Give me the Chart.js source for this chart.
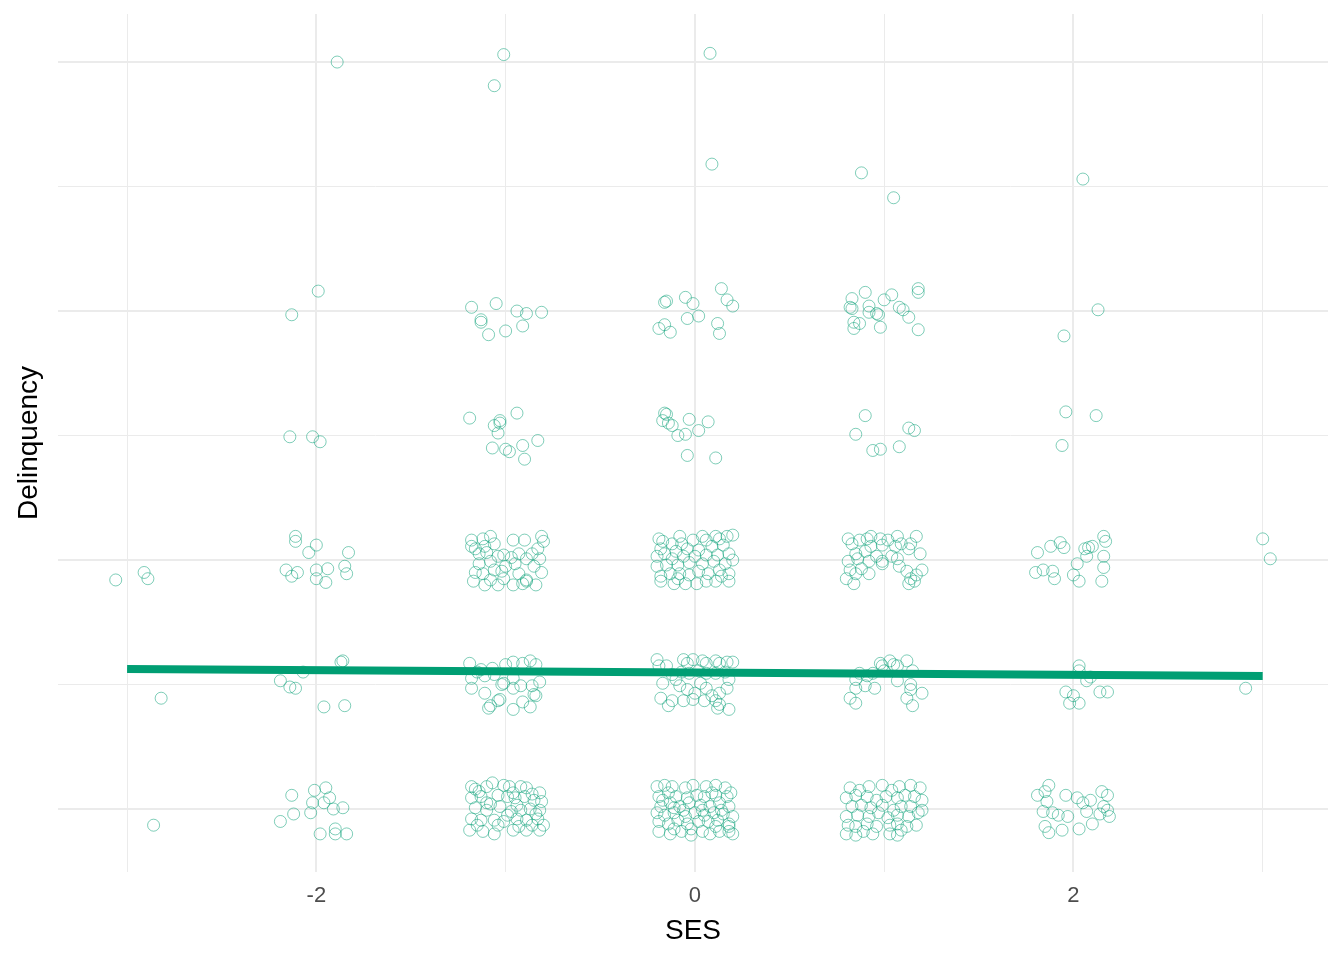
<!DOCTYPE html>
<html><head><meta charset="utf-8">
<script src="https://cdn.jsdelivr.net/npm/chart.js@4.4.1/dist/chart.umd.min.js"></script>
<style>html,body{margin:0;padding:0;background:#fff;}#wrap{width:1344px;height:960px;}</style>
</head><body><div id="wrap"><canvas id="c" width="1344" height="960"></canvas></div>
<script>
const xTitle = 'SES';
const yTitle = 'Delinquency';
const xGridTicks = [-3, -2, -1, 0, 1, 2, 3];
const xLabelled = [-2, 0, 2];
const yGridTicks = [0, 1, 2, 3, 4, 5, 6];

// jittered observations [SES, Delinquency], grouped by SES column
const sesNeg3 = [[-3.06,1.84],[-2.91,1.90],[-2.89,1.85],[-2.82,0.89],[-2.86,-0.13]];
const sesNeg2 = [
 [-1.89,6.00],[-1.99,4.16],[-2.13,3.97],[-2.14,2.99],[-2.02,2.99],[-1.98,2.95],
 [-2.11,2.19],[-2.11,2.15],[-2.00,2.12],[-2.04,2.06],[-1.83,2.06],[-2.16,1.92],[-2.13,1.87],
 [-2.10,1.90],[-2.00,1.92],[-2.00,1.85],[-1.94,1.93],[-1.95,1.82],[-1.85,1.95],[-1.84,1.89],
 [-2.07,1.10],[-1.87,1.18],[-1.86,1.19],[-2.19,1.03],[-2.14,0.98],[-2.11,0.97],[-1.96,0.82],[-1.85,0.83],
 [-2.13,0.11],[-2.01,0.15],[-1.95,0.17],[-1.93,0.09],[-2.02,0.05],[-1.96,0.05],[-2.03,-0.03],
 [-1.91,0.00],[-1.86,0.01],[-2.12,-0.04],[-2.19,-0.10],[-1.98,-0.20],[-1.90,-0.16],[-1.90,-0.20],[-1.84,-0.20]
];
const sesNeg1 = [
 [-1.01,6.06],[-1.06,5.81],
 [-1.18,4.03],[-1.05,4.06],[-0.94,4.00],[-0.89,3.98],[-0.81,3.99],[-1.13,3.93],[-1.13,3.91],[-1.09,3.81],[-1.00,3.84],[-0.91,3.88],
 [-1.19,3.14],[-0.94,3.18],[-1.03,3.12],[-1.03,3.10],[-1.06,3.08],[-1.04,3.02],[-0.83,2.96],[-1.07,2.90],[-1.00,2.89],[-0.98,2.87],[-0.91,2.92],[-0.90,2.81],
 [-1.18,2.16],[-1.16,2.09],[-1.12,2.17],[-1.08,2.19],[-1.06,2.13],[-1.11,2.11],[-1.10,2.06],[-1.14,2.05],[-0.96,2.16],[-0.90,2.16],
 [-0.81,2.19],[-0.80,2.15],[-0.83,2.09],[-0.86,2.05],[-0.93,2.05],[-1.01,2.04],[-1.04,2.03],[-0.97,2.02],[-1.08,1.99],[-1.14,1.97],
 [-0.82,2.01],[-0.89,2.01],[-1.00,1.95],[-0.95,1.97],[-1.16,1.90],[-1.12,1.89],[-1.06,1.92],[-1.02,1.91],[-0.93,1.89],[-0.89,1.84],
 [-0.89,1.83],[-0.81,1.90],[-1.17,1.83],[-1.11,1.80],[-1.04,1.80],[-0.96,1.80],[-0.84,1.80],[-0.91,1.81],[-1.01,1.85],[-1.08,1.84],
 [-0.85,1.95],[-1.18,2.11],
 [-1.19,1.17],[-1.13,1.12],[-1.07,1.13],[-1.00,1.16],[-0.96,1.18],[-0.91,1.17],[-0.87,1.19],[-0.84,1.16],[-1.18,1.05],[-1.11,1.07],
 [-1.06,1.08],[-1.01,1.01],[-0.96,1.05],[-0.92,0.99],[-0.86,0.99],[-0.82,1.02],[-1.18,0.97],[-1.11,0.93],[-1.02,1.00],[-1.04,0.87],
 [-0.96,0.97],[-0.85,0.92],[-0.84,0.91],[-1.09,0.81],[-1.08,0.83],[-0.96,0.80],[-0.91,0.86],[-0.87,0.82],[-1.03,0.88],[-1.15,1.10],
 [-1.18,0.18],[-1.16,0.16],[-1.10,0.18],[-1.07,0.21],[-1.01,0.19],[-0.98,0.18],[-0.92,0.18],[-0.89,0.17],[-0.82,0.13],[-1.18,0.09],
 [-1.13,0.10],[-1.04,0.11],[-0.99,0.10],[-0.95,0.09],[-0.90,0.10],[-0.85,0.07],[-0.81,0.06],[-1.16,0.01],[-1.10,-0.01],[-1.03,0.02],
 [-0.97,-0.02],[-0.92,-0.01],[-0.87,0.00],[-0.82,-0.01],[-1.18,-0.08],[-1.13,-0.09],[-1.06,-0.09],[-1.01,-0.10],[-0.94,-0.08],[-0.89,-0.09],
 [-0.83,-0.08],[-1.19,-0.17],[-1.12,-0.18],[-1.06,-0.20],[-0.96,-0.17],[-0.89,-0.17],[-0.82,-0.17],[-0.80,-0.13],[-1.04,-0.13],[-0.86,-0.13],
 [-1.10,0.05],[-0.94,0.03],[-1.14,0.14],[-0.96,0.13],[-0.86,0.12],[-1.08,0.04],[-0.99,-0.05],[-0.84,-0.04],[-1.15,-0.13],[-0.93,-0.14]
];
const ses0 = [
 [0.08,6.07],[0.09,5.18],
 [-0.16,4.07],[-0.15,4.08],[-0.05,4.11],[-0.01,4.06],[0.14,4.18],[0.17,4.09],[0.20,4.04],[-0.04,3.94],[0.02,3.96],[-0.19,3.86],[-0.16,3.89],[-0.13,3.83],[0.12,3.90],[0.13,3.82],
 [-0.16,3.18],[-0.15,3.17],[-0.17,3.12],[-0.14,3.10],[-0.12,3.08],[-0.03,3.13],[0.07,3.11],[0.02,3.04],[-0.09,3.00],[-0.05,3.01],[-0.04,2.84],[0.11,2.82],
 [-0.19,2.17],[-0.17,2.15],[-0.18,2.09],[-0.12,2.13],[-0.08,2.19],[-0.07,2.13],[-0.01,2.16],[0.04,2.19],[0.06,2.16],[0.11,2.19],
 [0.13,2.17],[0.17,2.19],[0.20,2.20],[0.15,2.12],[0.09,2.11],[0.02,2.08],[-0.04,2.09],[-0.10,2.07],[-0.16,2.05],[-0.20,2.03],
 [-0.12,2.01],[-0.06,2.03],[0.00,2.03],[0.06,2.04],[0.12,2.04],[0.18,2.05],[0.20,2.00],[0.16,1.97],[0.10,1.99],[0.04,1.97],
 [-0.03,1.98],[-0.09,1.96],[-0.15,1.96],[-0.20,1.95],[-0.18,1.87],[-0.13,1.89],[-0.08,1.89],[-0.03,1.88],[0.02,1.91],[0.07,1.89],
 [0.13,1.92],[0.18,1.89],[-0.18,1.83],[-0.11,1.81],[-0.05,1.81],[0.01,1.81],[0.06,1.83],[0.11,1.83],[0.18,1.83],[-0.09,1.85],[0.14,1.87],
 [-0.20,1.20],[-0.19,1.15],[-0.15,1.15],[-0.12,1.08],[-0.06,1.20],[-0.04,1.17],[-0.01,1.20],[0.04,1.19],[0.06,1.17],[0.11,1.19],
 [0.13,1.17],[0.17,1.18],[0.20,1.18],[-0.07,1.10],[-0.03,1.09],[0.02,1.11],[0.06,1.09],[0.11,1.09],[0.16,1.10],[0.18,1.04],
 [-0.18,0.89],[-0.14,0.83],[-0.12,0.87],[-0.08,0.99],[-0.04,0.96],[0.00,0.93],[0.03,1.01],[0.06,0.97],[0.09,0.91],[0.13,0.93],
 [0.17,0.97],[-0.06,0.87],[-0.01,0.88],[0.05,0.87],[0.11,0.87],[0.12,0.81],[0.18,0.80],[0.13,0.84],[-0.10,1.04],[-0.17,1.01],
 [-0.20,0.18],[-0.16,0.19],[-0.12,0.18],[-0.05,0.17],[-0.01,0.19],[0.06,0.18],[0.11,0.19],[0.16,0.17],[0.19,0.13],[-0.19,0.10],
 [-0.14,0.13],[-0.10,0.10],[-0.04,0.09],[0.01,0.11],[0.05,0.10],[0.11,0.11],[0.17,0.10],[-0.18,0.02],[-0.13,0.05],[-0.08,0.02],
 [-0.03,0.05],[0.03,0.03],[0.08,0.02],[0.13,0.05],[0.18,0.02],[-0.20,-0.03],[-0.16,-0.05],[-0.11,-0.03],[-0.05,-0.06],[0.00,-0.03],
 [0.05,-0.05],[0.10,-0.03],[0.15,-0.04],[0.20,-0.06],[-0.19,-0.10],[-0.14,-0.12],[-0.09,-0.09],[-0.04,-0.12],[0.02,-0.10],[0.07,-0.10],
 [0.12,-0.09],[0.18,-0.12],[-0.19,-0.18],[-0.13,-0.20],[-0.07,-0.18],[-0.02,-0.21],[0.04,-0.18],[0.08,-0.20],[0.13,-0.18],[0.18,-0.18],
 [0.20,-0.20],[-0.17,0.07],[-0.11,0.01],[-0.06,-0.01],[0.04,-0.01],[0.09,0.13],[0.14,-0.01],[-0.02,-0.16],[0.11,-0.14],[0.18,-0.14],[-0.11,-0.16]
];
const ses1 = [
 [0.88,5.11],[1.05,4.91],
 [1.18,4.18],[1.18,4.15],[0.90,4.15],[1.04,4.13],[1.00,4.09],[0.83,4.10],[0.82,4.03],[0.83,4.02],[0.92,4.04],[0.92,3.99],
 [0.96,3.98],[0.97,3.97],[1.08,4.03],[1.10,4.01],[1.13,3.95],[0.87,3.90],[0.84,3.91],[0.84,3.86],[0.98,3.87],[1.18,3.85],
 [0.90,3.16],[1.13,3.06],[1.16,3.04],[0.85,3.01],[1.08,2.91],[0.94,2.88],[0.98,2.89],
 [0.81,2.17],[0.83,2.13],[0.87,2.16],[0.91,2.17],[0.93,2.19],[0.98,2.17],[1.02,2.16],[1.07,2.19],[1.09,2.13],[1.14,2.13],
 [1.17,2.19],[1.19,2.05],[1.13,2.09],[1.06,2.11],[0.99,2.12],[0.93,2.11],[0.90,2.07],[0.85,2.05],[0.96,2.03],[0.99,1.99],
 [0.99,1.97],[0.92,1.99],[0.86,2.01],[0.81,1.99],[0.82,1.92],[0.85,1.89],[0.80,1.85],[0.84,1.81],[0.92,1.89],[1.04,2.03],
 [1.08,1.95],[1.12,1.91],[1.14,1.85],[1.13,1.81],[1.17,1.88],[1.20,1.92],[1.16,1.83],[1.07,2.01],[0.88,1.93],
 [0.87,1.09],[0.85,1.04],[0.85,0.97],[0.90,0.99],[0.95,0.97],[0.82,0.89],[0.85,0.85],[0.98,1.17],[0.99,1.15],[1.03,1.19],
 [1.05,1.16],[1.07,1.15],[1.12,1.19],[1.00,1.11],[1.07,1.03],[1.14,1.00],[1.14,0.96],[1.20,0.93],[1.12,0.89],[1.15,0.83],
 [0.91,1.07],[0.94,1.09],[1.15,1.11],
 [0.82,0.17],[0.87,0.15],[0.92,0.18],[0.99,0.19],[1.04,0.15],[1.08,0.18],[1.14,0.19],[1.19,0.17],[0.80,0.09],[0.85,0.11],
 [0.91,0.10],[0.96,0.07],[1.01,0.10],[1.07,0.09],[1.11,0.11],[1.16,0.10],[1.20,0.07],[0.83,0.02],[0.88,0.03],[0.93,0.01],
 [0.99,0.03],[1.05,-0.01],[1.09,0.02],[1.14,0.02],[1.20,-0.01],[0.80,-0.06],[0.86,-0.05],[0.92,-0.06],[0.97,-0.03],[1.02,-0.07],
 [1.07,-0.05],[1.13,-0.06],[1.18,-0.03],[0.81,-0.13],[0.85,-0.14],[0.91,-0.12],[0.96,-0.14],[1.03,-0.13],[1.07,-0.12],[1.12,-0.14],
 [1.17,-0.13],[0.80,-0.20],[0.85,-0.21],[0.89,-0.18],[0.94,-0.20],[1.03,-0.20],[1.07,-0.21],[1.09,-0.17]
];
const ses2 = [
 [2.05,5.06],[2.13,4.01],[1.95,3.80],[1.96,3.19],[2.12,3.16],[1.94,2.92],
 [1.81,2.06],[1.88,2.11],[1.93,2.14],[1.95,2.10],[2.06,2.09],[2.08,2.10],[2.10,2.11],[2.07,2.03],[2.16,2.19],[2.17,2.15],
 [2.16,2.03],[2.02,1.97],[1.80,1.90],[1.84,1.92],[1.89,1.91],[1.90,1.85],[2.00,1.88],[2.03,1.83],[2.16,1.94],[2.15,1.83],
 [2.03,1.15],[2.03,1.11],[2.07,1.03],[2.09,1.06],[1.96,0.94],[2.00,0.91],[1.98,0.85],[2.03,0.85],[2.14,0.94],[2.18,0.94],
 [1.81,0.11],[1.85,0.14],[1.87,0.19],[1.86,0.06],[1.84,-0.02],[1.89,-0.03],[1.92,-0.05],[1.97,-0.06],[1.96,0.11],[2.02,0.09],
 [2.05,0.05],[2.09,0.07],[2.07,-0.02],[2.10,-0.12],[2.15,0.14],[2.18,0.11],[2.16,0.02],[2.18,-0.01],[2.19,-0.06],[1.85,-0.14],
 [1.87,-0.19],[1.94,-0.17],[2.03,-0.16],[2.14,-0.04]
];
const ses3 = [[3.00,2.17],[3.04,2.01],[2.91,0.97]];

// fitted regression line (Delinquency ~ SES)
const fitX = [-3, 3];
const fitY = [1.124, 1.068];

const allObs = [].concat(sesNeg3, sesNeg2, sesNeg1, ses0, ses1, ses2, ses3).map(p => ({x: p[0], y: p[1]}));
const fitLine = fitX.map((x, i) => ({x: x, y: fitY[i]}));

const FONT = "'Liberation Sans', Arial, sans-serif";
const gridWidth = c => (Math.abs(Math.round(c.tick.value)) % 2 === 0 ? 2 : 1);

new Chart(document.getElementById('c'), {
  type: 'scatter',
  data: {
    datasets: [
      { type: 'line', data: fitLine, borderColor: '#009E73', borderWidth: 8, pointRadius: 0,
        showLine: true, fill: false, order: 0, borderCapStyle: 'butt' },
      { data: allObs, pointStyle: 'circle', pointRadius: 6, borderWidth: 1,
        borderColor: 'rgba(0,158,115,0.5)', backgroundColor: 'rgba(0,0,0,0)', order: 1 }
    ]
  },
  options: {
    responsive: false, animation: false, events: [],
    layout: { padding: { top: 14, right: 16, left: 0, bottom: 0 } },
    plugins: { legend: { display: false }, tooltip: { enabled: false } },
    scales: {
      x: {
        type: 'linear', min: -3.365, max: 3.345,
        afterBuildTicks: s => { s.ticks = xGridTicks.map(v => ({ value: v })); },
        afterFit: s => { s.height = 88; },
        border: { display: false },
        grid: { color: '#ebebeb', lineWidth: gridWidth, drawTicks: false },
        ticks: { autoSkip: false, maxRotation: 0, minRotation: 0, padding: 11,
          color: '#4d4d4d', font: { family: FONT, size: 22 },
          callback: v => xLabelled.includes(v) ? String(v) : '' },
        title: { display: true, text: xTitle, color: '#000', font: { family: FONT, size: 28 },
          padding: { top: 0, bottom: 12 } }
      },
      y: {
        type: 'linear', min: -0.506, max: 6.386,
        afterBuildTicks: s => { s.ticks = yGridTicks.map(v => ({ value: v })); },
        afterFit: s => { s.width = 58; },
        border: { display: false },
        grid: { color: '#ebebeb', lineWidth: gridWidth, drawTicks: false },
        ticks: { display: false },
        title: { display: true, text: yTitle, color: '#000', font: { family: FONT, size: 28 },
          padding: { top: 12, bottom: 0 } }
      }
    }
  }
});
</script></body></html>
